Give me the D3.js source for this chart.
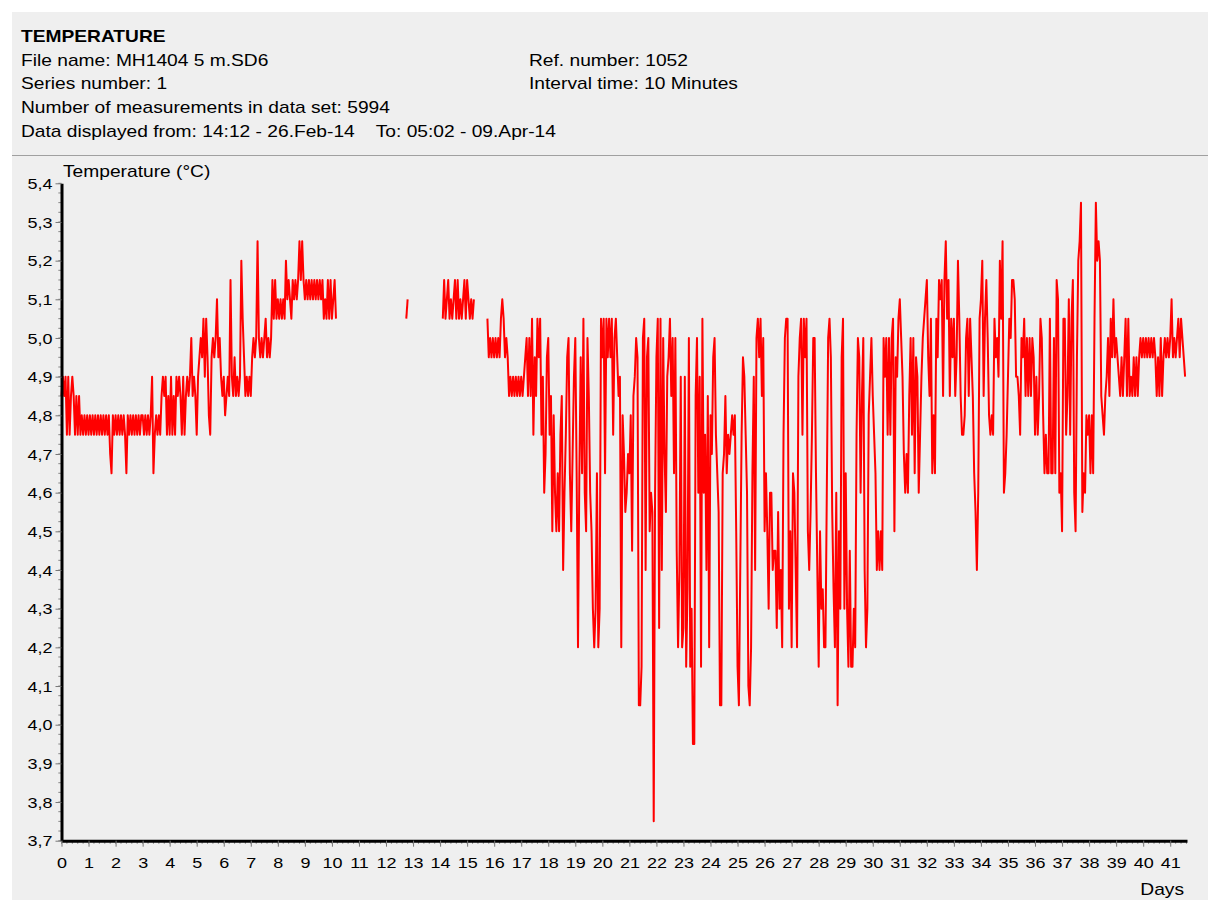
<!DOCTYPE html>
<html>
<head>
<meta charset="utf-8">
<script src="https://cdn.jsdelivr.net/npm/d3@7"></script>
<style>
  body { margin: 0; background: #fff; }
  svg text { font-family: "Liberation Sans", Arial, sans-serif; fill: #000; }
</style>
</head>
<body>
<div id="chart"></div>
<script>
(function () {

  // header texts
  const titleText = 'TEMPERATURE'
  const infoLeft = [
    'File name: MH1404 5 m.SD6',
    'Series number: 1',
    'Number of measurements in data set: 5994',
    'Data displayed from: 14:12 - 26.Feb-14    To: 05:02 - 09.Apr-14'
  ]
  const infoRight = ['Ref. number: 1052', 'Interval time: 10 Minutes']

  // axis ticks
  const yTicks = [3.7, 3.8, 3.9, 4.0, 4.1, 4.2, 4.3, 4.4, 4.5, 4.6, 4.7, 4.8, 4.9, 5.0, 5.1, 5.2, 5.3, 5.4]
  const xTicks = [0, 1, 2, 3, 4, 5, 6, 7, 8, 9, 10, 11, 12, 13, 14, 15, 16, 17, 18, 19, 20,
    21, 22, 23, 24, 25, 26, 27, 28, 29, 30, 31, 32, 33, 34, 35, 36, 37, 38, 39, 40, 41]
  const dayMax = 41.62

  // temperature (°C), every 0.05 day
  const stepDays = 0.05
  const segStarts = [0, 12.75, 14.1, 15.75]

  const tempA = [
    4.85,4.9,4.85,4.9,4.75,4.9,4.75,4.85,4.9,4.85,4.75,4.85,4.75,4.85,4.75,4.8,4.75,4.8,4.75,4.8,
    4.75,4.8,4.75,4.8,4.75,4.8,4.75,4.8,4.75,4.8,4.75,4.8,4.75,4.8,4.75,4.8,4.7,4.65,4.8,4.75,
    4.8,4.75,4.8,4.75,4.8,4.75,4.8,4.75,4.65,4.8,4.75,4.8,4.75,4.8,4.75,4.8,4.75,4.8,4.75,4.8,
    4.8,4.75,4.8,4.75,4.8,4.75,4.8,4.9,4.65,4.75,4.8,4.75,4.8,4.75,4.85,4.9,4.85,4.9,4.75,4.85,
    4.75,4.9,4.75,4.85,4.75,4.9,4.85,4.9,4.85,4.75,4.9,4.75,4.85,4.9,4.85,4.9,5.0,4.85,4.9,4.85,
    4.75,4.9,4.95,5.0,4.95,5.05,4.9,5.05,4.95,4.8,4.75,4.95,5.0,4.95,5.0,5.1,4.95,5.0,4.9,4.85,
    4.9,4.8,4.85,4.9,4.85,5.15,4.9,4.85,4.95,4.85,4.9,4.85,4.9,5.2,5.05,4.95,4.85,4.9,4.85,4.9,
    4.85,4.95,5.0,4.95,5.0,5.25,5.0,4.95,5.0,4.95,5.0,5.05,4.95,5.0,4.95,5.0,5.15,5.05,5.15,5.05,
    5.1,5.05,5.1,5.05,5.1,5.05,5.2,5.1,5.15,5.1,5.05,5.15,5.1,5.15,5.1,5.15,5.25,5.15,5.25,5.15,
    5.1,5.15,5.1,5.15,5.1,5.15,5.1,5.15,5.1,5.15,5.1,5.15,5.1,5.15,5.05,5.1,5.05,5.15,5.05,5.15,
    5.05,5.1,5.15,5.05
  ]
  const tempB = [5.05, 5.1]
  const tempC = [
    5.05,5.15,5.05,5.1,5.15,5.05,5.1,5.05,5.1,5.15,5.05,5.15,5.05,5.1,5.05,5.1,5.15,5.05,
    5.15,5.1,5.05,5.1,5.05,5.1
  ]
  const tempD = [
    5.05,4.95,5.0,4.95,5.0,
    // day 16
    4.95,5.0,4.95,5.0,4.95,5.05,5.1,5.05,4.95,5.0,4.95,4.85,4.9,4.85,4.9,4.85,4.9,4.85,4.9,4.85,
    4.9,4.85,4.9,4.95,5.0,4.85,5.0,4.85,5.05,4.75,4.95,4.85,5.05,4.95,5.05,4.75,4.9,4.6,4.7,4.95,
    5.0,4.75,4.85,4.5,4.8,4.6,4.5,4.65,4.5,4.75,4.85,4.4,4.6,4.75,4.95,5.0,4.65,4.5,4.7,4.9,
    5.0,4.65,4.2,4.65,4.95,4.65,5.05,4.6,4.5,5.0,4.85,4.6,4.5,4.3,4.2,4.3,4.65,4.2,4.3,5.05,
    // day 20
    4.95,5.05,4.65,5.05,4.95,5.05,4.95,5.05,4.75,5.0,5.05,4.95,4.85,4.9,4.2,4.8,4.7,4.55,4.6,4.7,
    4.65,4.8,4.45,4.85,4.9,5.0,4.95,4.05,4.05,4.15,5.0,5.05,4.4,4.95,5.0,4.5,4.6,4.55,3.75,4.6,
    4.95,5.05,4.25,5.05,4.4,5.0,4.7,4.55,4.9,4.95,5.05,4.85,5.0,4.65,5.0,4.45,4.2,4.4,4.9,4.2,
    4.25,4.9,4.15,4.35,5.0,4.15,4.3,3.95,3.95,4.85,5.0,4.6,4.9,4.15,5.05,4.6,4.75,4.4,4.85,4.2,
    4.8,4.7,4.95,5.0,4.75,4.65,4.55,4.05,4.05,4.65,4.7,4.85,4.65,4.75,4.7,4.75,4.8,4.75,4.8,4.5,
    // day 25
    4.15,4.05,4.4,4.75,4.95,4.9,4.75,4.6,4.1,4.05,4.2,4.65,4.9,4.4,5.0,5.05,4.95,5.05,4.85,5.0,
    4.5,4.65,4.5,4.3,4.6,4.6,4.4,4.45,4.45,4.25,4.55,4.3,4.4,4.2,4.75,5.0,5.05,5.05,4.3,4.5,
    4.2,4.65,4.6,4.4,4.2,4.9,5.0,5.05,4.75,5.05,4.95,5.05,4.5,4.4,4.55,4.75,5.0,5.0,4.65,4.4,
    4.15,4.5,4.3,4.35,4.2,4.2,4.6,5.0,5.05,4.95,4.55,4.35,4.2,4.6,4.05,4.5,4.3,4.95,5.05,4.3,
    4.65,4.3,4.15,4.45,4.15,4.15,4.3,4.2,4.75,5.0,4.95,4.6,4.85,5.0,4.4,4.2,4.3,4.8,4.9,5.0,
    // day 30
    4.85,4.75,4.65,4.4,4.5,4.4,4.5,4.4,5.0,4.9,5.0,4.75,5.0,4.75,5.0,5.05,4.5,4.95,4.9,5.05,
    5.1,5.0,4.9,4.7,4.6,4.7,4.6,4.85,5.0,4.75,5.0,4.65,4.95,4.9,4.6,4.75,4.9,5.0,5.05,5.1,
    5.15,4.95,4.85,5.05,4.65,4.8,4.65,5.05,4.95,5.15,5.1,5.15,4.85,5.15,5.25,5.05,5.15,4.85,5.05,4.95,
    5.05,4.85,4.95,5.2,5.05,4.85,4.75,4.75,4.8,5.0,5.05,4.85,5.05,4.95,4.85,4.65,4.55,4.4,4.6,5.05,
    5.1,5.2,4.85,5.05,5.15,5.0,4.8,4.75,4.8,4.75,5.05,4.95,5.0,4.9,5.2,5.05,5.25,4.6,4.65,4.75,
    // day 35
    4.9,5.05,5.0,5.15,5.15,5.1,4.9,4.9,4.85,4.75,5.0,4.95,5.05,4.85,5.0,4.85,5.0,4.85,5.0,4.95,
    4.75,4.9,4.75,4.85,5.05,5.0,4.8,4.65,4.75,4.65,4.65,5.05,4.65,4.65,5.0,4.65,5.15,5.1,4.6,4.65,
    4.5,5.05,5.05,4.75,4.85,5.1,4.75,5.05,5.15,4.6,4.5,4.95,5.2,5.25,5.35,4.55,4.65,4.6,4.8,4.75,
    4.8,4.65,4.8,4.65,5.05,5.35,5.2,5.25,5.2,4.85,4.8,4.75,4.85,4.9,5.0,4.85,5.05,4.95,5.1,4.95,
    5.0,4.95,4.9,4.85,4.95,4.85,4.95,5.05,4.85,5.05,4.85,4.9,4.85,4.95,4.85,4.95,4.85,4.95,5.0,4.95,
    // day 40
    5.0,4.95,5.0,4.95,5.0,4.95,5.0,4.95,5.0,4.95,4.85,4.95,4.85,5.0,4.85,4.95,5.0,4.95,5.0,4.95,
    5.0,5.1,4.95,5.0,4.95,5.0,5.05,4.95,5.05,5.0,4.95,4.9
  ]

  const segments = [tempA, tempB, tempC, tempD].map((vals, k) =>
    vals.map((v, i) => ({ day: segStarts[k] + i * stepDays, temp: v })))

  // the original's lettering is wider than the font, stretch it a bit
  const stretch = 1.2

  const svg = d3.select('#chart').append('svg')
    .attr('width', 1208)
    .attr('height', 900)

  function label (x, y, txt, size) {
    return svg.append('text')
      .attr('transform', 'translate(' + x + ',' + y + ') scale(' + stretch + ',1)')
      .attr('font-size', size)
      .style('white-space', 'pre')
      .text(txt)
  }

  // grey panel and divider
  svg.append('rect')
    .attr('x', 12).attr('y', 12)
    .attr('width', 1196).attr('height', 888)
    .attr('fill', '#efefef')

  svg.append('line')
    .attr('x1', 12).attr('x2', 1208)
    .attr('y1', 155.5).attr('y2', 155.5)
    .attr('stroke', '#a0a0a0')

  // header
  label(21, 41.5, titleText, 16).attr('font-weight', 'bold')
  infoLeft.forEach((t, i) => label(21, 65.5 + i * 23.8, t, 16))
  infoRight.forEach((t, i) => label(529, 65.5 + i * 23.8, t, 16))

  const xPositionScale = d3.scaleLinear()
    .domain([0, dayMax])
    .range([61.5, 1187])

  const yPositionScale = d3.scaleLinear()
    .domain([3.7, 5.4])
    .range([840.7, 183.3])

  // the series
  const line = d3.line()
    .x(d => xPositionScale(d.day))
    .y(d => yPositionScale(d.temp))

  svg.selectAll('.temp-line')
    .data(segments)
    .join('path')
    .attr('class', 'temp-line')
    .attr('d', line)
    .attr('fill', 'none')
    .attr('stroke', '#ff0000')
    .attr('stroke-width', 2)
    .attr('stroke-linejoin', 'round')

  // minor ticks
  const yMinor = d3.range(0, 69).map(i => 3.7 + i * 0.025)
  const xMinor = d3.range(0, 209).map(i => i * 0.2).filter(d => d <= dayMax)

  svg.selectAll('.y-minor')
    .data(yMinor)
    .join('line')
    .attr('class', 'y-minor')
    .attr('x1', 58.3).attr('x2', 61.5)
    .attr('y1', d => yPositionScale(d)).attr('y2', d => yPositionScale(d))
    .attr('stroke', '#888')

  svg.selectAll('.x-minor')
    .data(xMinor)
    .join('line')
    .attr('class', 'x-minor')
    .attr('x1', d => xPositionScale(d)).attr('x2', d => xPositionScale(d))
    .attr('y1', 840.7).attr('y2', 843.8)
    .attr('stroke', '#888')

  // axes
  const yAxis = d3.axisLeft(yPositionScale)
    .tickValues(yTicks)
    .tickSize(6)
    .tickSizeOuter(0)
    .tickFormat(d => d.toFixed(1).replace('.', ','))

  const yG = svg.append('g')
    .attr('class', 'axis y-axis')
    .attr('transform', 'translate(' + xPositionScale(0) + ',0)')
    .call(yAxis)

  const xAxis = d3.axisBottom(xPositionScale)
    .tickValues(xTicks)
    .tickSize(6)
    .tickSizeOuter(0)
    .tickFormat(d => d)

  const xG = svg.append('g')
    .attr('class', 'axis x-axis')
    .attr('transform', 'translate(0,' + yPositionScale(3.7) + ')')
    .call(xAxis)

  svg.selectAll('.axis .tick line').attr('stroke', '#777')
  svg.selectAll('.axis .domain')
    .attr('stroke', '#000')
    .attr('stroke-width', 3)
  svg.selectAll('.axis text')
    .attr('font-family', '"Liberation Sans", Arial, sans-serif')
    .attr('font-size', 15)
    .attr('fill', '#000')
    .attr('transform', 'scale(' + stretch + ',1)')

  yG.selectAll('.tick text').attr('x', -9 / stretch).attr('dy', '0.35em')
  xG.selectAll('.tick text').attr('y', 27).attr('dy', 0)

  // axis titles
  label(63, 177, 'Temperature (°C)', 16)
  label(1184, 895, 'Days', 16).attr('text-anchor', 'end')

})();
</script>
</body>
</html>
